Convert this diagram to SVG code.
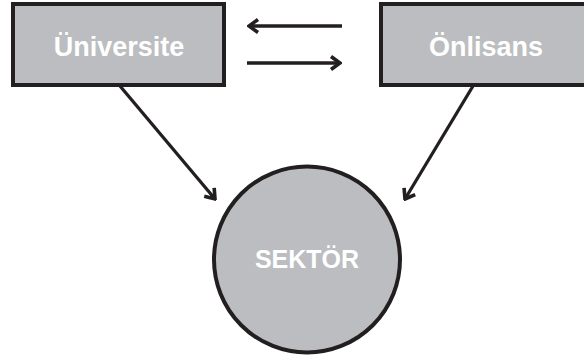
<svg xmlns="http://www.w3.org/2000/svg" width="584" height="360" viewBox="0 0 584 360">
<defs>
<style>
.node{fill:#BCBDC0;stroke:#231F20;stroke-width:4}
.lbl{fill:#FFFFFF;font-family:"Liberation Sans",Arial,sans-serif;font-weight:bold;text-anchor:middle}
.con{stroke:#231F20;stroke-width:3.3;fill:none}
</style>
<marker id="ah" viewBox="-12 -8 14 16" markerWidth="14" markerHeight="16" refX="0" refY="0" orient="auto" markerUnits="userSpaceOnUse">
<path d="M-9,-6.5 L0,0 L-9,6.5" fill="none" stroke="#231F20" stroke-width="3.6" stroke-linejoin="miter" stroke-linecap="butt"/>
</marker>
</defs>
<rect width="584" height="360" fill="#FFFFFF"/>
<g id="connectors">
<line class="con" x1="342" y1="26" x2="249" y2="26" marker-end="url(#ah)"/>
<line class="con" x1="247" y1="63" x2="340" y2="63" marker-end="url(#ah)"/>
<line class="con" x1="120" y1="86" x2="215" y2="199" marker-end="url(#ah)"/>
<line class="con" x1="473" y1="86" x2="405" y2="199" marker-end="url(#ah)"/>
</g>
<g id="universite">
<rect class="node" x="13" y="4" width="211" height="81"/>
<text class="lbl" x="119" y="56" font-size="27">Üniversite</text>
</g>
<g id="onlisans">
<rect class="node" x="381" y="4" width="210" height="81"/>
<text class="lbl" x="486" y="56" font-size="27">Önlisans</text>
</g>
<g id="sektor">
<circle class="node" cx="307" cy="259.5" r="93"/>
<text class="lbl" x="307" y="268" font-size="25">SEKTÖR</text>
</g>
</svg>
